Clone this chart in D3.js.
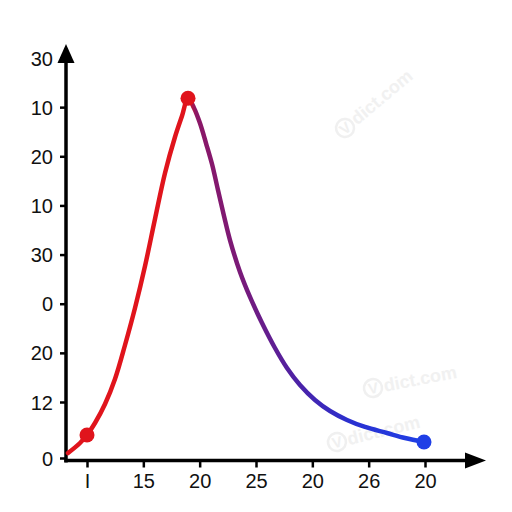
<!DOCTYPE html>
<html><head><meta charset="utf-8">
<script src="https://cdn.jsdelivr.net/npm/d3@7"></script>
<style>html,body{margin:0;padding:0;background:#fff;}svg{display:block;}</style>
</head><body>
<svg id="c" width="512" height="512"></svg>
<script>
// Tick labels as printed on the chart
const yTickLabels = ["0", "12", "20", "0", "30", "10", "20", "10", "30"];
const xTickLabels = ["I", "15", "20", "25", "20", "26", "20"];
// Curve samples (x and y in tick-index units)
const curveX = [-0.337, -0.124, 0, 0.142, 0.320, 0.497, 0.675, 0.852, 1.030, 1.207, 1.385, 1.562, 1.686, 1.793,
                1.899, 2.006, 2.112, 2.219, 2.325, 2.432, 2.538, 2.716, 2.893, 3.107, 3.337, 3.550, 3.781, 4.047,
                4.314, 4.615, 4.935, 5.325, 5.645, 5.982];
const curveY = [0.089, 0.268, 0.411, 0.625, 0.964, 1.468, 2.160, 2.913, 3.767, 4.724, 5.660, 6.392, 6.820, 7.180,
                6.983, 6.671, 6.270, 5.843, 5.314, 4.785, 4.296, 3.645, 3.137, 2.608, 2.099, 1.692, 1.346, 1.041,
                0.839, 0.679, 0.554, 0.446, 0.357, 0.286];
// Highlighted points (indices into curve)
const markerIdx = [2, 13, 33];
const markerColors = ["#e0141c", "#e0141c", "#1f3fe6"];

const svg = d3.select("#c");
const x = d3.scaleLinear().domain([0, 6]).range([87, 425]);
const y = d3.scaleLinear().domain([0, 1, 8]).range([458, 402, 58]);

const axisX = 66, axisY = 460.5;
const font = "'Liberation Sans', Arial, sans-serif";

// watermarks
const wm = [{x:345,y:128,a:-40},{x:373,y:388,a:-11},{x:337,y:442,a:-14}];
wm.forEach(w => {
  const g = svg.append("g").attr("transform", `translate(${w.x},${w.y}) rotate(${w.a})`).attr("opacity", 0.5);
  g.append("circle").attr("r", 9).attr("fill", "none").attr("stroke", "#e2e2e2").attr("stroke-width", 2.5);
  g.append("text").attr("x", 0).attr("y", 5.5).attr("text-anchor", "middle")
    .attr("font-family", font).attr("font-weight", "bold").attr("font-size", 15).attr("fill", "#e2e2e2").text("V");
  g.append("text").attr("x", 11).attr("y", 6).attr("font-family", font).attr("font-weight", "bold")
    .attr("font-size", 18).attr("fill", "#e4e4e4").text("dict.com");
});

// gradient along x
const defs = svg.append("defs");
const x0 = x(curveX[0]), x1 = x(curveX[curveX.length-1]);
const grad = defs.append("linearGradient").attr("id", "lg").attr("gradientUnits", "userSpaceOnUse")
  .attr("x1", x0).attr("x2", x1).attr("y1", 0).attr("y2", 0);
const stops = [[x0, "#e0141c"], [187, "#e0141c"], [196, "#8c1766"], [240, "#7a1a78"], [300, "#4a22a8"], [350, "#2a30d0"], [x1, "#1f3fe6"]];
stops.forEach(s => grad.append("stop").attr("offset", ((s[0]-x0)/(x1-x0))).attr("stop-color", s[1]));

// axes
const yAxis = d3.axisLeft(y).tickValues(d3.range(yTickLabels.length)).tickFormat((d,i) => yTickLabels[i]).tickSize(6).tickPadding(7);
const gy = svg.append("g").attr("transform", `translate(${axisX},0)`).call(yAxis);
gy.select(".domain").remove();
gy.selectAll(".tick line").attr("stroke", "#000").attr("stroke-width", 2.5);
gy.selectAll(".tick text").attr("font-family", font).attr("font-size", 20).attr("fill", "#111").attr("dy", "0.35em");

const xAxis = d3.axisBottom(x).tickValues(d3.range(xTickLabels.length)).tickFormat((d,i) => xTickLabels[i]).tickSize(7).tickPadding(6);
const gx = svg.append("g").attr("transform", `translate(0,${axisY})`).call(xAxis);
gx.select(".domain").remove();
gx.selectAll(".tick line").attr("stroke", "#000").attr("stroke-width", 2.5);
gx.selectAll(".tick text").attr("font-family", font).attr("font-size", 20).attr("fill", "#111").attr("dy", "0.71em");

// axis lines & arrows
svg.append("line").attr("x1", axisX).attr("x2", axisX).attr("y1", 462.5).attr("y2", 58).attr("stroke", "#000").attr("stroke-width", 3.5);
svg.append("line").attr("x1", 64.3).attr("x2", 470).attr("y1", axisY).attr("y2", axisY).attr("stroke", "#000").attr("stroke-width", 3.5);
svg.append("path").attr("d", `M${axisX},44 L${axisX-8.5},63 L${axisX+8.5},63 Z`).attr("fill", "#000");
svg.append("path").attr("d", `M486,${axisY} L465,${axisY-8} L465,${axisY+8} Z`).attr("fill", "#000");

// curve
const pts = curveX.map((d,i) => [d, curveY[i]]);
const line = d3.line().x(d => x(d[0])).y(d => y(d[1])).curve(d3.curveCatmullRom.alpha(0.5));
svg.append("path").datum(pts).attr("d", line).attr("fill", "none").attr("stroke", "url(#lg)")
  .attr("stroke-width", 4.5).attr("stroke-linecap", "round");

svg.selectAll(".mk").data(markerIdx).enter().append("circle")
  .attr("cx", i => x(curveX[i])).attr("cy", i => y(curveY[i])).attr("r", 7.5)
  .attr("fill", (d,k) => markerColors[k]);
</script>
</body></html>
